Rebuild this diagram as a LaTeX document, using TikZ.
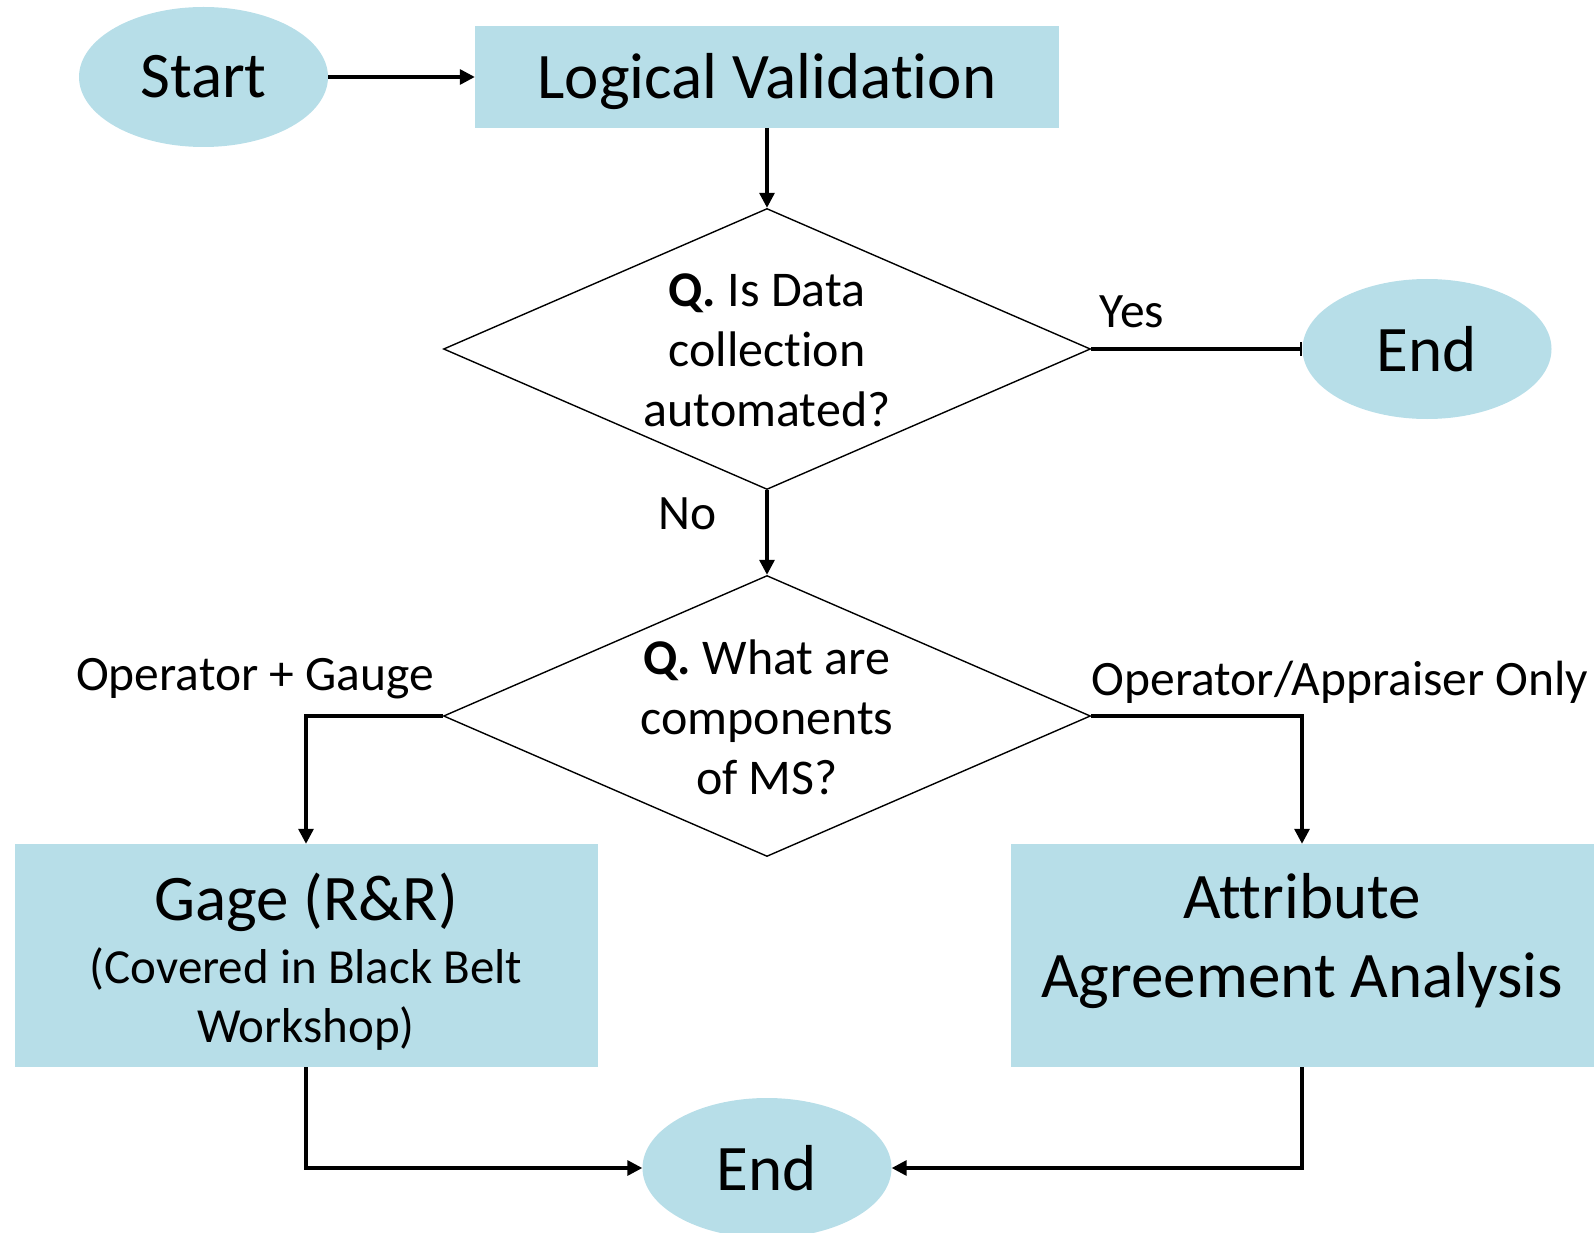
\documentclass[tikz,border=0pt]{standalone}
\usepackage{fontspec}
\setmainfont[Ligatures={CommonOff}]{Carlito}
\usetikzlibrary{shapes.geometric,arrows.meta}
\definecolor{boxfill}{HTML}{B7DEE8}
\begin{document}
\begin{tikzpicture}[x=1pt,y=-1pt,
  term/.style={ellipse, fill=boxfill, minimum width=249pt, minimum height=140pt, inner sep=0pt, font=\fontsize{65}{78}\selectfont},
  proc/.style={rectangle, fill=boxfill, inner sep=0pt, align=center},
  dec/.style={diamond, draw=black, line width=1.4pt, minimum width=647pt, minimum height=281pt, inner sep=0pt},
  dtext/.style={align=center, font=\fontsize{50}{60}\selectfont, inner sep=0pt},
  conn/.style={line width=3.2pt, -{Triangle[length=15pt,width=15pt]}},
  elabel/.style={font=\fontsize{49.5}{58}\selectfont, inner sep=0pt},
]
\useasboundingbox (0,0) rectangle (1595,1233);

% nodes
\node[term] (start) at (203.5,77) {Start};
\node[proc, minimum width=584pt, minimum height=101.5pt, font=\fontsize{65}{78}\selectfont] (lv) at (767,77) {\rule{0pt}{54pt}Logical Validation};
\node[dec] (d1) at (767,349) {};
\node[dtext] (d1t) at (767,350) {\textbf{Q.} Is Data\\collection\\automated?};
\node[term] (endr) at (1427,349) {End};
\node[dec] (d2) at (767,716) {};
\node[dtext] (d2t) at (767,717) {\textbf{Q.} What are\\components\\of MS?};
\node[proc, minimum width=583pt, minimum height=223pt, font=\fontsize{49}{59}\selectfont] (gage) at (306,955.5)
  {{\fontsize{65}{78}\selectfont\rule{0pt}{60pt}Gage (R\&R)}\\[4pt](Covered in Black Belt\\Workshop)};
\node[proc, minimum width=583pt, minimum height=223pt, font=\fontsize{65}{79.5}\selectfont] (attr) at (1302,955.5)
  {Attribute\\Agreement Analysis\rule[-40pt]{0pt}{0pt}};
\node[term] (endb) at (767,1168) {End};

% connectors
\draw[conn] (start) -- (lv);
\draw[conn] (lv) -- (d1);
\draw[line width=3.2pt, -{Bar[width=14pt,line width=2.4pt]}] (d1.east) -- (endr.west);
\draw[conn] (d1.south) -- (d2.north);
\draw[conn] (d2.west) -| (gage.north);
\draw[conn] (d2.east) -| (attr.north);
\draw[conn] (gage.south) |- (endb.west);
\draw[conn] (attr.south) |- (endb.east);

% labels
\node[elabel] (lyes) at (1132,312) {Yes};
\node[elabel] (lno) at (687.5,514) {No};
\node[elabel] (lgauge) at (255,679) {Operator + Gauge};
\node[elabel] (lonly) at (1340,682) {Operator/Appraiser Only};
\end{tikzpicture}
\end{document}
